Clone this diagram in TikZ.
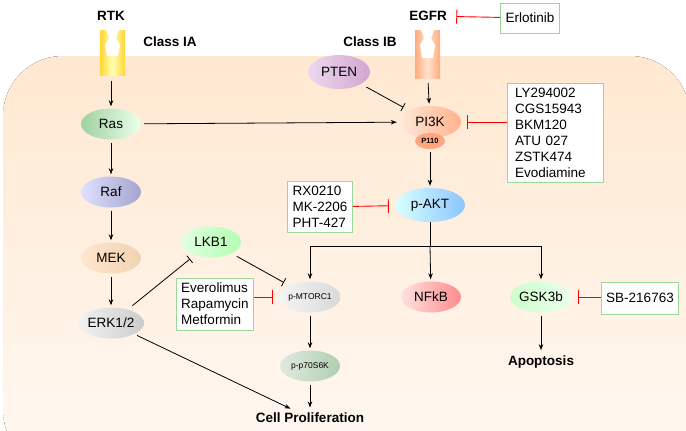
\documentclass[tikz,border=0pt]{standalone}
\usepackage{fontspec}
\setmainfont{Liberation Sans}
\usetikzlibrary{arrows.meta,shapes.geometric}
\begin{document}
\begin{tikzpicture}[x=1pt,y=-1pt,
  el/.style={ellipse,minimum width=60pt,minimum height=31pt,inner sep=0pt,font=\fontsize{13.5}{15}\selectfont},
  sm/.style={font=\fontsize{8.5}{10}\selectfont},
  box/.style={draw=green!45!gray!55,fill=white,line width=0.8pt,align=left,font=\fontsize{13.5}{16}\selectfont,inner sep=5pt},
  arr/.style={-{Stealth[length=6pt,width=4.5pt]},line width=0.8pt,shorten >=2pt,shorten <=3pt},
  inh/.style={-{Bar[width=9pt]},line width=0.8pt,shorten >=6pt,shorten <=6pt},
  rinh/.style={-{Bar[width=14pt]},line width=0.9pt,red,shorten >=6pt},
  lab/.style={font=\bfseries\fontsize{13.5}{15}\selectfont}]
\useasboundingbox (0,0) rectangle (686,431);
\fill[top color=orange!18!white, bottom color=orange!5!white,rounded corners=60pt] (3,56) rectangle (690,470);
% receptors
\fill[left color=yellow!60!orange!80,right color=yellow!60!orange!80,middle color=yellow!30] (100,30) rectangle (125,75);
\fill[white] (106,30)--(109,38)--(105,45)--(107,56)--(118,56)--(120,45)--(116,38)--(119,30)--cycle;
\fill[left color=red!30!orange!50,right color=red!30!orange!50,middle color=red!10!orange!20] (415,30) rectangle (440,78);
\fill[white] (421,30)--(424,38)--(420,45)--(422,58)--(433,58)--(435,45)--(431,38)--(434,30)--cycle;
\node[lab] (rtk) at (111,16) {RTK};
\node[lab] (ca) at (170,42) {Class IA};
\node[lab] (egfr) at (428,16) {EGFR};
\node[lab] (cb) at (370,42) {Class IB};
\coordinate (rtkb) at (111,78);
\coordinate (egfrb) at (428,80);
\node[box,minimum height=30pt] (erl) at (530,18) {Erlotinib};
% nodes
\node[el,left color=green!35!gray!55,right color=green!8!white] (ras) at (111,124) {Ras};
\node[el,left color=blue!12!white,right color=blue!30!gray!55] (raf) at (111,192) {Raf};
\node[el,left color=orange!20!white,right color=orange!40!brown!35] (mek) at (111,258) {MEK};
\node[el,left color=gray!10,right color=gray!40] (erk) at (111,323) {ERK1/2};
\node[el,minimum width=62pt,minimum height=34pt,left color=violet!15!white,right color=violet!35!white] (pten) at (339,72) {PTEN};
\node[el,minimum width=62pt,minimum height=32pt,left color=red!10!orange!15,right color=red!35!orange!45] (pi3k) at (430,122) {PI3K};
\node[ellipse,minimum width=30pt,minimum height=16pt,inner sep=0pt,fill=orange!60!red!50,font=\bfseries\fontsize{7.5}{8}\selectfont] (p110) at (430,141) {P110};
\node[el,minimum width=70pt,minimum height=34pt,left color=cyan!15!white,right color=cyan!50!blue!45] (akt) at (430,205) {p-AKT};
\node[el,left color=green!12!white,right color=green!30!white] (lkb) at (211,242) {LKB1};
\node[el,sm,left color=gray!8,right color=gray!30] (mtor) at (310,297) {p-MTORC1};
\node[el,left color=red!12!white,right color=red!45!white] (nfkb) at (431,297) {NFkB};
\node[el,left color=green!20!white,right color=green!8!white] (gsk) at (541,297) {GSK3b};
\node[el,sm,left color=green!15!gray!20,right color=green!25!gray!50] (p70) at (310,366) {p-p70S6K};
\node[lab] (cp) at (310,418) {Cell Proliferation};
\node[lab] (apo) at (541,362) {Apoptosis};
\node[box,text width=80pt,inner xsep=8pt] (ly) at (555,133) {LY294002\\CGS15943\\BKM120\\ATU 027\\ZSTK474\\Evodiamine};
\node[box] (rx) at (320,207) {RX0210\\MK-2206\\PHT-427};
\node[box] (eve) at (215,304) {Everolimus\\Rapamycin\\Metformin};
\node[box,minimum height=32pt] (sb) at (640,298) {SB-216763};
% connectors
\draw[arr] (rtkb) -- (ras);
\draw[arr] (ras) -- (pi3k);
\draw[arr] (ras) -- (raf);
\draw[arr] (raf) -- (mek);
\draw[arr] (mek) -- (erk);
\draw[arr] (egfrb) -- (pi3k);
\draw[inh] (pten) -- (pi3k);
\draw[arr] (p110) -- (akt);
\draw[rinh] (erl) -- (egfr);
\draw[rinh] (ly.west|-pi3k) -- (pi3k);
\draw[rinh] (rx) -- (akt);
\draw[rinh] (eve.east|-mtor) -- (mtor);
\draw[rinh] (sb.west|-gsk) -- (gsk);
\coordinate (bj) at (430,246);
\draw[line width=0.8pt] (akt) -- (bj);
\draw[arr,shorten <=0pt] (bj) -| (mtor);
\draw[arr,shorten <=0pt] (bj) -- (nfkb);
\draw[arr,shorten <=0pt] (bj) -| (gsk);
\draw[inh] (erk) -- (lkb);
\draw[inh] (lkb) -- (mtor);
\draw[arr] (erk) -- (cp);
\draw[arr] (mtor) -- (p70);
\draw[arr] (p70) -- (cp);
\draw[arr] (gsk) -- (apo);
\end{tikzpicture}
\end{document}
